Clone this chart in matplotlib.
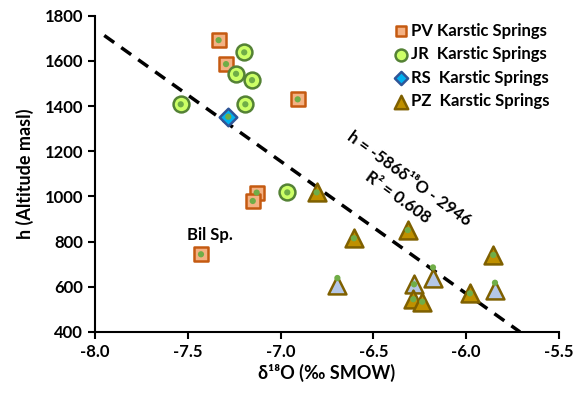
import numpy as np
import matplotlib
matplotlib.use("Agg")
import matplotlib.pyplot as plt

plt.rcParams['font.family'] = ['Lato', 'DejaVu Sans']
plt.rcParams['font.weight'] = 'bold'

# PV Karstic Springs
pv_x = [-7.334, -7.294, -6.908, -7.129, -7.150, -7.429]
pv_y = [1692, 1586, 1430, 1017, 980, 744]
# JR Karstic Springs
jr_x = [-7.196, -7.240, -7.154, -7.538, -7.190, -6.964]
jr_y = [1638, 1543, 1515, 1408, 1408, 1018]
# RS Karstic Springs
rs_x = [-7.282]
rs_y = [1353]
# PZ Karstic Springs (gold)
pz_x = [-6.806, -6.605, -6.315, -5.854, -5.980, -6.285, -6.237]
pz_y = [1018, 815, 851, 741, 571, 545, 534]
# PZ (light blue triangles)
pzb_x = [-6.694, -6.281, -6.179, -5.845]
pzb_y = [608, 611, 637, 586]
# small green dots
dot_x = pv_x + jr_x + rs_x + pz_x + [-6.694, -6.281, -6.179, -5.845]
dot_y = pv_y + jr_y + rs_y + pz_y + [639, 611, 686, 618]

slope, intercept = -586, -2946
line_x = np.array([-7.95, -5.71])

fig = plt.figure(figsize=(5.75, 3.94), dpi=100)
ax = fig.add_axes([0.1652, 0.1574, 0.807, 0.8026])

ax.plot(line_x, slope * line_x + intercept, ls=(0, (3.5, 2.5)), color='black', lw=2.5, zorder=2)

ax.scatter(pv_x, pv_y, marker='s', s=105, facecolor='#F4B183', edgecolor='#C55A11', lw=1.8, zorder=3,
           label='PV Karstic Springs')
ax.scatter(jr_x, jr_y, marker='o', s=130, facecolor='#CCFF66', edgecolor='#548235', lw=1.8, zorder=3,
           label='JR  Karstic Springs')
ax.scatter(rs_x, rs_y, marker='D', s=80, facecolor='#00B0F0', edgecolor='#2F5597', lw=1.8, zorder=3,
           label='RS  Karstic Springs')
ax.scatter(pzb_x, pzb_y, marker='^', s=165, facecolor='#B4C7E7', edgecolor='#7F6000', lw=1.8, zorder=3)
ax.scatter(pz_x, pz_y, marker='^', s=165, facecolor='#BF9000', edgecolor='#7F6000', lw=1.8, zorder=3,
           label='PZ  Karstic Springs')
ax.scatter(dot_x, dot_y, marker='o', s=20, facecolor='#70AD47', edgecolor='none', zorder=4)

ax.set_xlim(-8.0, -5.5)
ax.set_ylim(400, 1800)
ax.set_xticks(np.arange(-8.0, -5.49, 0.5))
ax.set_xticklabels(['%.1f' % v for v in np.arange(-8.0, -5.49, 0.5)])
ax.set_yticks(np.arange(400, 1801, 200))
for s in ['top', 'right']:
    ax.spines[s].set_visible(False)
for s in ['left', 'bottom']:
    ax.spines[s].set_linewidth(1.5)
ax.tick_params(direction='out', length=5, width=1.5, labelsize=12)

ax.set_xlabel('δ¹⁸O (‰ SMOW)', fontsize=13, fontweight='bold', labelpad=3)
ax.set_ylabel('h (Altitude masl)', fontsize=13, fontweight='bold', labelpad=8)

ax.text(-7.38, 830, 'Bil Sp.', fontsize=12, fontweight='bold', ha='center', va='center')
ax.text(-6.31, 1080, 'h = -586δ¹⁸O - 2946', fontsize=12, fontweight='bold',
        rotation=-36, ha='center', va='center', rotation_mode='anchor')
ax.text(-6.37, 995, 'R² = 0.608', fontsize=12, fontweight='bold',
        rotation=-36, ha='center', va='center', rotation_mode='anchor')

leg = ax.legend(loc='upper right', bbox_to_anchor=(1.0, 1.01), frameon=False, fontsize=12,
                handletextpad=0.05, labelspacing=0.45, markerscale=0.75, borderaxespad=0.2,
                handlelength=1.0)

fig.savefig('out.png', dpi=100)
